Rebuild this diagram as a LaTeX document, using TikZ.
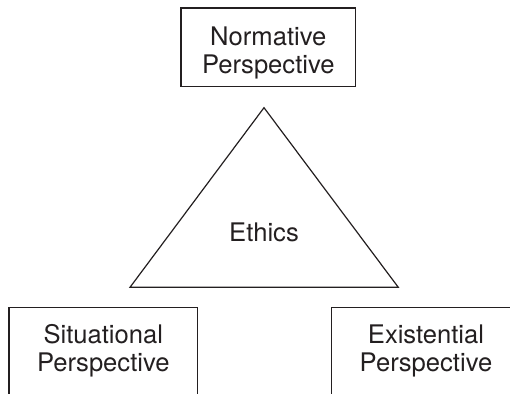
\documentclass[tikz,border=0pt]{standalone}
\usepackage{fontspec}
\setmainfont{TeX Gyre Heros}
\definecolor{ink}{HTML}{231F20}
\tikzset{
  persp/.style={draw=ink, text=ink, line width=0.6pt, inner sep=0pt, align=center, anchor=north},
}
\begin{document}
\begin{tikzpicture}[x=0.5pt,y=0.5pt,font=\fontsize{12.8}{13.85}\selectfont]
\useasboundingbox (0,0) rectangle (510,393);
\clip (0,0) rectangle (510,393);
\node[persp, minimum width=87.35pt, text height=32.7pt, text depth=6.65pt] (normative) at (268.3,385.7) {Normative\\Perspective};
\node[persp, minimum width=94.35pt, text height=32.15pt, text depth=13pt] (situational) at (103.3,86.3) {Situational\\Perspective};
\node[persp, minimum width=94.35pt, text height=32.15pt, text depth=13pt] (existential) at (426,86.3) {Existential\\Perspective};

\coordinate (apex) at (264,285.3);
\coordinate (baseL) at (130,105.7);
\coordinate (baseR) at (398.3,105.7);
\draw[ink, line width=0.6pt, line join=miter] (apex) -- (baseL) -- (baseR) -- cycle;
\node[text=ink, anchor=base] (ethics) at (264,151.3) {Ethics};
\end{tikzpicture}
\end{document}
